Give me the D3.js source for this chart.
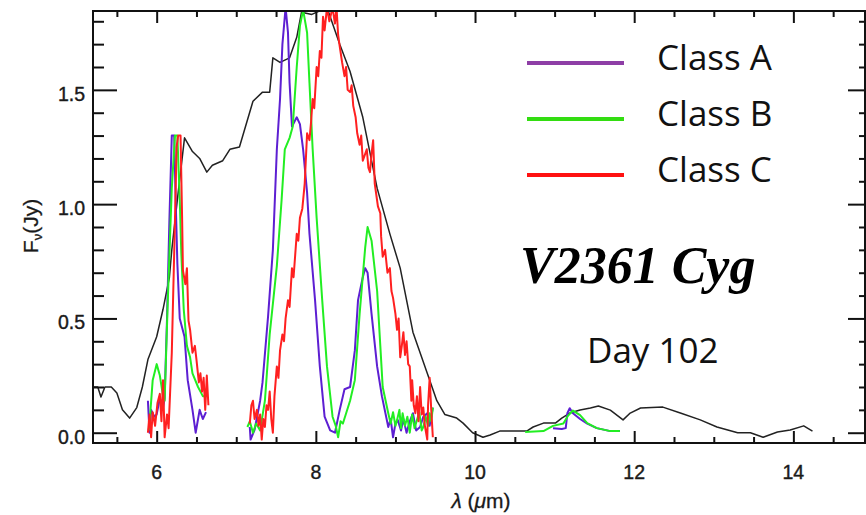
<!DOCTYPE html>
<html>
<head>
<meta charset="utf-8">
<script src="https://cdn.jsdelivr.net/npm/d3@7"></script>
<style>
  body { margin: 0; background: #fff; }
  svg { display: block; }
</style>
</head>
<body>
<svg id="chart" width="866" height="515"></svg>
<script>
// observed spectrum (black)
const observed = [
  [5.20,0.20],[5.26,0.20],[5.30,0.156],[5.35,0.20],[5.43,0.20],[5.50,0.174],[5.57,0.10],
  [5.66,0.064],[5.75,0.11],[5.82,0.20],[5.89,0.32],[6.00,0.42],[6.08,0.54],[6.16,0.68],
  [6.19,0.80],[6.26,1.02],[6.35,1.29],[6.45,1.23],[6.54,1.20],[6.63,1.14],[6.70,1.17],
  [6.83,1.19],[6.92,1.24],[7.04,1.25],[7.21,1.45],[7.33,1.49],[7.42,1.49],[7.46,1.64],
  [7.55,1.62],[7.67,1.64],[7.76,1.73],[7.82,1.84],[7.95,1.83],[8.14,1.86],[8.30,1.70],
  [8.43,1.58],[8.59,1.38],[8.77,1.07],[8.93,0.87],[9.06,0.72],[9.22,0.44],[9.40,0.26],
  [9.52,0.14],[9.62,0.08],[9.77,0.064],[9.85,0.042],[9.97,0.0],[10.10,-0.02],[10.19,-0.01],
  [10.31,0.007],[10.65,0.007],[10.73,0.025],[10.86,0.042],[11.01,0.042],[11.09,0.064],
  [11.19,0.086],[11.32,0.099],[11.45,0.108],[11.55,0.117],[11.70,0.099],[11.86,0.056],
  [11.95,0.086],[12.08,0.108],[12.36,0.112],[12.58,0.086],[12.83,0.056],[13.04,0.025],
  [13.30,0.0],[13.46,0.0],[13.62,-0.02],[13.80,0.003],[13.96,0.012],[14.13,0.03],[14.24,0.007]
];

// model class A (purple), three segments
const classA1 = [
  [5.89,0.14],[5.91,0.0],[5.93,0.10],[5.97,0.07],[6.00,0.08],[6.04,0.15],[6.08,0.11],
  [6.10,0.15],[6.13,0.50],[6.16,0.93],[6.19,1.30],[6.22,1.30],[6.24,1.0],[6.26,0.74],
  [6.29,0.50],[6.35,0.42],[6.39,0.23],[6.45,0.10],[6.49,0.0],[6.54,0.10],[6.58,0.06],[6.62,0.09]
];
const classA2 = [
  [7.17,0.025],[7.18,-0.03],[7.23,0.012],[7.30,0.14],[7.33,0.22],[7.40,0.51],[7.46,0.80],
  [7.51,1.24],[7.55,1.46],[7.58,1.70],[7.62,1.86],[7.65,1.75],[7.67,1.53],[7.70,1.34],
  [7.76,1.38],[7.80,1.35],[7.84,1.24],[7.89,1.05],[7.92,0.87],[7.99,0.58],[8.05,0.29],
  [8.11,0.07],[8.18,0.01],[8.24,0.0],[8.30,0.10],[8.36,0.19],[8.43,0.20],[8.49,0.36],
  [8.53,0.58],[8.59,0.68],[8.62,0.72],[8.65,0.70],[8.70,0.52],[8.77,0.29],[8.83,0.16],
  [8.91,0.025],[8.94,0.06],[8.97,-0.02],[9.00,0.04],[9.03,0.055],[9.07,0.01],[9.10,0.06],
  [9.14,0.0],[9.18,0.05],[9.22,0.085],[9.26,0.01],[9.31,0.025],[9.35,0.07],[9.40,0.085],
  [9.43,0.03],[9.47,0.11]
];
const classA3 = [
  [10.98,0.02],[11.09,0.016],[11.14,0.02],[11.16,0.085],[11.19,0.107],[11.23,0.085],
  [11.32,0.06],[11.41,0.04],[11.53,0.02],[11.70,0.007],[11.82,0.007]
];

// model class B (green)
const classB1 = [
  [5.90,0.01],[5.91,0.04],[5.95,0.23],[6.00,0.30],[6.04,0.25],[6.08,0.16],[6.10,0.14],
  [6.14,0.58],[6.19,1.07],[6.23,1.30],[6.26,1.30],[6.29,1.02],[6.31,0.78],[6.34,0.54],
  [6.38,0.38],[6.42,0.33],[6.45,0.26],[6.52,0.20],[6.58,0.16],[6.63,0.16]
];
const classB2 = [
  [7.14,0.025],[7.17,0.05],[7.21,0.0],[7.25,0.04],[7.30,0.01],[7.36,0.14],[7.42,0.43],
  [7.51,0.73],[7.57,1.02],[7.61,1.24],[7.67,1.29],[7.71,1.34],[7.76,1.60],[7.80,1.78],
  [7.84,1.85],[7.89,1.75],[7.92,1.53],[7.96,1.24],[8.01,0.94],[8.08,0.58],[8.14,0.29],
  [8.21,0.07],[8.25,0.03],[8.28,-0.02],[8.31,0.05],[8.34,0.04],[8.43,0.14],[8.49,0.23],
  [8.55,0.52],[8.62,0.81],[8.65,0.90],[8.70,0.84],[8.77,0.62],[8.81,0.38],[8.84,0.20],
  [8.91,0.085],[8.94,0.04],[8.97,0.09],[9.00,0.03],[9.02,0.055],[9.05,0.10],[9.07,0.02],
  [9.09,0.085],[9.12,0.03],[9.15,0.07],[9.18,0.0],[9.21,0.08],[9.24,0.02],[9.27,0.055],
  [9.30,0.09],[9.33,0.01],[9.35,0.025],[9.38,0.07],[9.41,0.03],[9.43,0.085],[9.45,0.05],[9.47,0.11]
];
const classB3 = [
  [10.63,0.003],[10.86,0.007],[10.98,0.03],[11.11,0.04],[11.17,0.075],[11.23,0.097],
  [11.32,0.077],[11.41,0.042],[11.53,0.02],[11.70,0.007],[11.82,0.007]
];

// model class C (red)
const classC1 = [
  [5.89,0.0],[5.91,0.08],[5.93,-0.02],[5.95,0.09],[5.98,0.03],[6.01,0.13],[6.04,0.17],
  [6.06,0.05],[6.08,0.23],[6.10,-0.02],[6.13,0.08],[6.15,0.02],[6.19,0.35],[6.23,0.93],
  [6.25,1.25],[6.27,1.30],[6.30,1.30],[6.32,0.93],[6.33,0.71],[6.36,0.65],[6.38,0.72],
  [6.40,0.49],[6.42,0.45],[6.45,0.35],[6.48,0.38],[6.50,0.32],[6.53,0.22],[6.55,0.26],
  [6.57,0.18],[6.59,0.24],[6.61,0.10],[6.63,0.25],[6.65,0.12]
];
const classC2 = [
  [7.17,0.04],[7.19,0.12],[7.21,0.14],[7.23,0.06],[7.26,0.10],[7.28,0.03],[7.30,0.08],
  [7.32,-0.03],[7.34,0.06],[7.36,0.025],[7.38,0.12],[7.40,0.10],[7.42,0.18],[7.44,0.06],
  [7.46,0.0],[7.48,0.16],[7.51,0.29],[7.53,0.24],[7.55,0.36],[7.58,0.43],[7.60,0.40],
  [7.62,0.50],[7.65,0.58],[7.67,0.55],[7.70,0.72],[7.72,0.68],[7.76,0.87],[7.78,0.84],
  [7.80,0.94],[7.83,0.98],[7.86,1.09],[7.89,1.31],[7.92,1.28],[7.94,1.36],[7.96,1.46],
  [7.98,1.42],[8.01,1.60],[8.03,1.56],[8.05,1.67],[8.07,1.64],[8.09,1.82],[8.11,1.76],
  [8.14,1.86],[8.17,1.80],[8.21,1.86],[8.24,1.79],[8.26,1.86],[8.28,1.74],[8.30,1.69],
  [8.33,1.62],[8.36,1.56],[8.38,1.60],[8.40,1.50],[8.43,1.49],[8.45,1.52],[8.47,1.43],
  [8.50,1.38],[8.52,1.31],[8.55,1.26],[8.57,1.30],[8.59,1.19],[8.62,1.22],[8.64,1.24],
  [8.66,1.16],[8.68,1.14],[8.70,1.22],[8.72,1.28],[8.74,1.09],[8.76,1.04],[8.78,0.99],
  [8.81,0.96],[8.82,0.86],[8.84,0.77],[8.87,0.80],[8.90,0.70],[8.93,0.72],[8.95,0.62],
  [8.97,0.59],[9.00,0.52],[9.02,0.45],[9.04,0.50],[9.06,0.33],[9.08,0.38],[9.10,0.44],
  [9.12,0.34],[9.14,0.40],[9.16,0.30],[9.18,0.29],[9.20,0.14],[9.21,0.23],[9.23,0.12],
  [9.25,0.085],[9.27,0.16],[9.29,0.05],[9.31,0.20],[9.33,0.08],[9.35,0.11],[9.37,0.03],
  [9.40,-0.03],[9.41,0.12],[9.43,0.24],[9.45,0.10],[9.47,-0.02]
];

const xMajor = [6, 8, 10, 12, 14];
const yMajor = [0, 0.5, 1.0, 1.5];
const legendNames = ['Class A', 'Class B', 'Class C'];
const legendColors = ['#8e3ea6', '#33dd11', '#ff1111'];
const traceColors = { A: '#5d1fd2', B: '#22ee22', C: '#ff2020' };

const svg = d3.select('#chart');
const plotLeft = 93, plotRight = 865, plotTop = 11, plotBottom = 443;

const x = d3.scaleLinear().domain([5.2, 14.9]).range([plotLeft, plotRight]);
const y = d3.scaleLinear().domain([-0.045, 1.845]).range([plotBottom, plotTop]);

svg.append('clipPath').attr('id', 'plotClip')
  .append('rect')
  .attr('x', plotLeft).attr('y', plotTop)
  .attr('width', plotRight - plotLeft).attr('height', plotBottom - plotTop);

const plot = svg.append('g').attr('clip-path', 'url(#plotClip)');

const line = d3.line()
  .x(d => x(d[0]))
  .y(d => y(d[1]));

function drawTrace(data, color, width) {
  plot.append('path')
    .datum(data)
    .attr('fill', 'none')
    .attr('stroke', color)
    .attr('stroke-width', width)
    .attr('stroke-linejoin', 'round')
    .attr('d', line);
}

drawTrace(observed, '#222', 1.5);
[classA1, classA2, classA3].forEach(s => drawTrace(s, traceColors.A, 2));
[classB1, classB2, classB3].forEach(s => drawTrace(s, traceColors.B, 2));
[classC1, classC2].forEach(s => drawTrace(s, traceColors.C, 2));

// axes: ticks inward on all four sides
const xMinor = d3.range(5.5, 14.9, 0.5).filter(v => !xMajor.includes(v));
const yMinor = d3.range(0, 1.85, 0.1).map(v => +v.toFixed(1)).filter(v => !yMajor.includes(v));

svg.append('g')
  .attr('transform', `translate(0,${plotBottom})`)
  .call(d3.axisTop(x).tickValues(xMajor).tickSize(12).tickFormat(''));
svg.append('g')
  .attr('transform', `translate(0,${plotBottom})`)
  .call(d3.axisTop(x).tickValues(xMinor).tickSize(6).tickFormat(''));
svg.append('g')
  .attr('transform', `translate(0,${plotTop})`)
  .call(d3.axisBottom(x).tickValues(xMajor).tickSize(12).tickFormat(''));
svg.append('g')
  .attr('transform', `translate(0,${plotTop})`)
  .call(d3.axisBottom(x).tickValues(xMinor).tickSize(6).tickFormat(''));

svg.append('g')
  .attr('transform', `translate(${plotLeft},0)`)
  .call(d3.axisRight(y).tickValues(yMajor).tickSize(24).tickFormat(''));
svg.append('g')
  .attr('transform', `translate(${plotLeft},0)`)
  .call(d3.axisRight(y).tickValues(yMinor).tickSize(11).tickFormat(''));
svg.append('g')
  .attr('transform', `translate(${plotRight},0)`)
  .call(d3.axisLeft(y).tickValues(yMajor).tickSize(17).tickFormat(''));
svg.append('g')
  .attr('transform', `translate(${plotRight},0)`)
  .call(d3.axisLeft(y).tickValues(yMinor).tickSize(6).tickFormat(''));

svg.selectAll('.domain').remove();
svg.selectAll('.tick line').attr('stroke', '#111').attr('stroke-width', 2);

svg.append('rect')
  .attr('x', plotLeft).attr('y', plotTop)
  .attr('width', plotRight - plotLeft).attr('height', plotBottom - plotTop)
  .attr('fill', 'none').attr('stroke', '#111').attr('stroke-width', 2);

// tick labels
const labelFont = '"Liberation Sans", Arial, sans-serif';
svg.append('g').selectAll('text')
  .data(xMajor).join('text')
  .attr('x', d => x(d)).attr('y', 479)
  .attr('text-anchor', 'middle')
  .attr('font-family', labelFont).attr('font-size', 19.5)
  .attr('fill', '#1a1a1a').attr('stroke', '#1a1a1a').attr('stroke-width', 0.4)
  .text(d => d);

svg.append('g').selectAll('text')
  .data(yMajor).join('text')
  .attr('x', 85).attr('y', d => y(d) + 11)
  .attr('text-anchor', 'end')
  .attr('font-family', labelFont).attr('font-size', 19.5)
  .attr('fill', '#1a1a1a').attr('stroke', '#1a1a1a').attr('stroke-width', 0.4)
  .text(d => d3.format('.1f')(d));

// axis titles
const xt = svg.append('text')
  .attr('x', 481).attr('y', 508)
  .attr('text-anchor', 'middle')
  .attr('font-family', labelFont).attr('font-size', 21)
  .attr('fill', '#1a1a1a').attr('stroke', '#1a1a1a').attr('stroke-width', 0.3);
xt.append('tspan').attr('font-style', 'italic').text('λ');
xt.append('tspan').text(' (');
xt.append('tspan').attr('font-style', 'italic').text('μ');
xt.append('tspan').text('m)');

const yt = svg.append('text')
  .attr('transform', 'translate(38,226) rotate(-90)')
  .attr('text-anchor', 'middle')
  .attr('font-family', labelFont).attr('font-size', 21)
  .attr('fill', '#1a1a1a').attr('stroke', '#1a1a1a').attr('stroke-width', 0.3);
yt.append('tspan').text('F');
yt.append('tspan').attr('font-size', 13).attr('dy', 4).text('ν');
yt.append('tspan').attr('dy', -4).text('(Jy)');

// legend
const legendY = [63, 119, 175];
const legend = svg.append('g');
legendNames.forEach((name, i) => {
  legend.append('line')
    .attr('x1', 527).attr('x2', 624)
    .attr('y1', legendY[i]).attr('y2', legendY[i])
    .attr('stroke', legendColors[i]).attr('stroke-width', 4);
  legend.append('text')
    .attr('x', 657).attr('y', legendY[i] + 7)
    .attr('font-family', '"Open Sans", sans-serif').attr('font-size', 35).attr('fill', '#111')
    .text(name);
});

// annotations
svg.append('text')
  .attr('x', 520).attr('y', 283)
  .attr('font-family', '"Liberation Serif", "Times New Roman", serif')
  .attr('font-weight', 'bold').attr('font-style', 'italic')
  .attr('font-size', 52).attr('fill', '#000')
  .text('V2361 Cyg');

svg.append('text')
  .attr('x', 587).attr('y', 363)
  .attr('font-family', '"Open Sans", sans-serif').attr('font-size', 35).attr('fill', '#111')
  .text('Day 102');
</script>
</body>
</html>
